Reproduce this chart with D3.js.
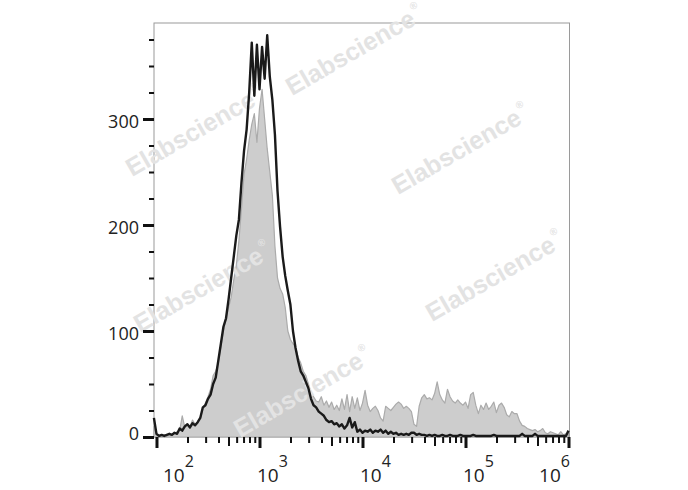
<!DOCTYPE html>
<html><head><meta charset="utf-8">
<script src="https://cdn.jsdelivr.net/npm/d3@7/dist/d3.min.js"></script>
<style>body{margin:0;background:#fff} svg{display:block}</style>
</head><body><svg id="c" width="688" height="490"></svg>
<script>
// ---- data ----
const binStartExp = 1.975;   // log10 of first bin centre
const binWidthExp = 0.025;   // log10 width of each bin
const grayCounts = [
10,2,1,1,2,1,2,2,3,5,
6,20,9,12,10,16,12,14,18,26,
32,38,45,58,62,70,85,100,112,122,
132,148,162,185,215,248,262,280,295,305,
278,310,328,300,272,250,228,180,150,140,
135,122,100,92,88,85,75,70,62,58,
50,42,38,34,33,38,30,34,28,33,
26,30,25,36,26,40,24,38,27,37,
25,32,44,30,24,27,29,25,18,15,
29,27,25,28,31,33,31,27,29,27,
24,12,10,29,37,40,36,37,35,41,
52,40,35,32,45,38,34,32,35,32,
30,33,27,40,42,30,22,30,26,32,
26,29,33,23,30,32,28,21,19,24,
22,22,15,11,10,8,7,6,7,5,
6,8,4,3,5,4,3,2,5,2,
3,4];
const blackCounts = [
18,3,1,2,1,2,3,2,4,3,
8,6,10,12,9,13,11,14,18,28,
30,36,40,50,56,72,88,104,112,130,
150,170,190,205,240,270,290,325,372,322,
370,328,368,338,379,340,318,285,232,198,
170,152,138,125,100,84,72,62,58,52,
46,36,30,28,24,22,20,16,14,15,
12,13,10,12,8,11,18,9,14,5,
7,4,6,5,7,4,6,5,7,4,
6,3,5,3,4,2,3,2,3,2,
4,4,2,3,2,2,1,2,1,2,
1,1,2,1,1,2,1,1,1,2,
1,1,1,1,2,1,1,1,1,1,
1,1,2,1,1,1,1,1,1,1,
1,1,1,3,1,1,1,1,3,1,
1,1,1,1,1,1,1,1,1,1,
1,6];
const xDecades = [2,3,4,5,6];
const yMajorTicks = [0,100,200,300];
const yMinorTicks = [25,50,75,125,150,175,225,250,275,325,350,375];
const watermarkText = "Elabscience";

// ---- layout ----
const plot = {left:154, right:569.5, top:23, bottom:437};
const wmSpots = [[292,96],[132,177],[398,195],[140,333],[432,322],[240,438]];

const svg = d3.select("#c");
const x = d3.scaleLog().domain([Math.pow(10,1.97), 1e6]).range([153.4, 568.5]);
const y = d3.scaleLinear().domain([0,390]).range([437, 23.6]);

const binVal = i => Math.pow(10, binStartExp + i*binWidthExp);
const grayData = grayCounts.map((c,i)=>({v:binVal(i), c}));
const blackData = blackCounts.map((c,i)=>({v:binVal(i), c}));

// frame
svg.append("rect").attr("x",plot.left).attr("y",plot.top)
  .attr("width",plot.right-plot.left).attr("height",plot.bottom-plot.top)
  .attr("fill","none").attr("stroke","#9a9a9a").attr("stroke-width",1);

// gray filled histogram
svg.append("path").datum(grayData)
  .attr("d", d3.area().x(d=>x(d.v)).y0(y(0)).y1(d=>y(d.c)))
  .attr("fill","#cdcdcd").attr("stroke","#ababab").attr("stroke-width",1.2)
  .attr("stroke-linejoin","round");

// watermarks
const wmG = svg.append("g");
wmSpots.forEach(([px,py])=>{
  const t = wmG.append("text")
    .attr("transform",`translate(${px},${py}) rotate(-30)`)
    .attr("font-family","Liberation Sans, Arial, sans-serif")
    .attr("font-weight","bold").attr("font-size",25)
    .attr("fill","#e3e3e3").text(watermarkText);
  t.append("tspan").attr("font-size",10).attr("dy",-14).attr("dx",2).text("®");
});

// black line histogram
svg.append("path").datum(blackData)
  .attr("d", d3.line().x(d=>x(d.v)).y(d=>y(d.c)))
  .attr("fill","none").attr("stroke","#1a1a1a").attr("stroke-width",2.4)
  .attr("stroke-linejoin","round");

// x axis ticks
const majors = xDecades.map(d=>Math.pow(10,d));
const mids = xDecades.slice(0,-1).map(d=>5*Math.pow(10,d));
const minors = [];
xDecades.slice(0,-1).forEach(d=>{[2,3,4,6,7,8,9].forEach(k=>minors.push(k*Math.pow(10,d)));});

function xAxisLayer(vals, size, width){
  const g = svg.append("g").attr("transform",`translate(0,${plot.bottom})`)
    .call(d3.axisBottom(x).tickValues(vals).tickSize(size).tickFormat(""));
  g.select(".domain").remove();
  g.selectAll("line").attr("stroke","#111").attr("stroke-width",width);
}
xAxisLayer(minors,6,2);
xAxisLayer(mids,9,2);
xAxisLayer(majors,11,3);

// x labels
const xl = svg.append("g").attr("font-family","Open Sans, sans-serif").attr("fill","#222");
xDecades.forEach((d,i)=>{
  const px = x(Math.pow(10,d));
  let anchor="start", tx=px-2.5;
  if(i===0){tx=px+6.5;}
  if(i===xDecades.length-1){anchor="end"; tx=px+1.5;}
  const t = xl.append("text").attr("x",tx).attr("y",482).attr("text-anchor",anchor)
    .attr("font-size",19);
  t.append("tspan").text("10");
  t.append("tspan").attr("font-size",16).attr("dy",-15).text(d);
});

// y axis
function yAxisLayer(vals, size, width, labels){
  const g = svg.append("g").attr("transform",`translate(${plot.left},0)`)
    .call(d3.axisLeft(y).tickValues(vals).tickSize(size).tickPadding(4)
      .tickFormat(labels ? d3.format("d") : ""));
  g.select(".domain").remove();
  g.selectAll("line").attr("stroke","#111").attr("stroke-width",width);
  return g;
}
yAxisLayer(yMinorTicks,5,2,false);
const yg = yAxisLayer(yMajorTicks,11,3,true);
yg.selectAll("text").attr("font-family","Open Sans, sans-serif").attr("font-size",18)
  .attr("fill","#222").attr("dy","0.45em")
  .attr("transform",d=> d===0 ? "translate(0,-5.5)" : "translate(0,0)");
</script></body></html>
